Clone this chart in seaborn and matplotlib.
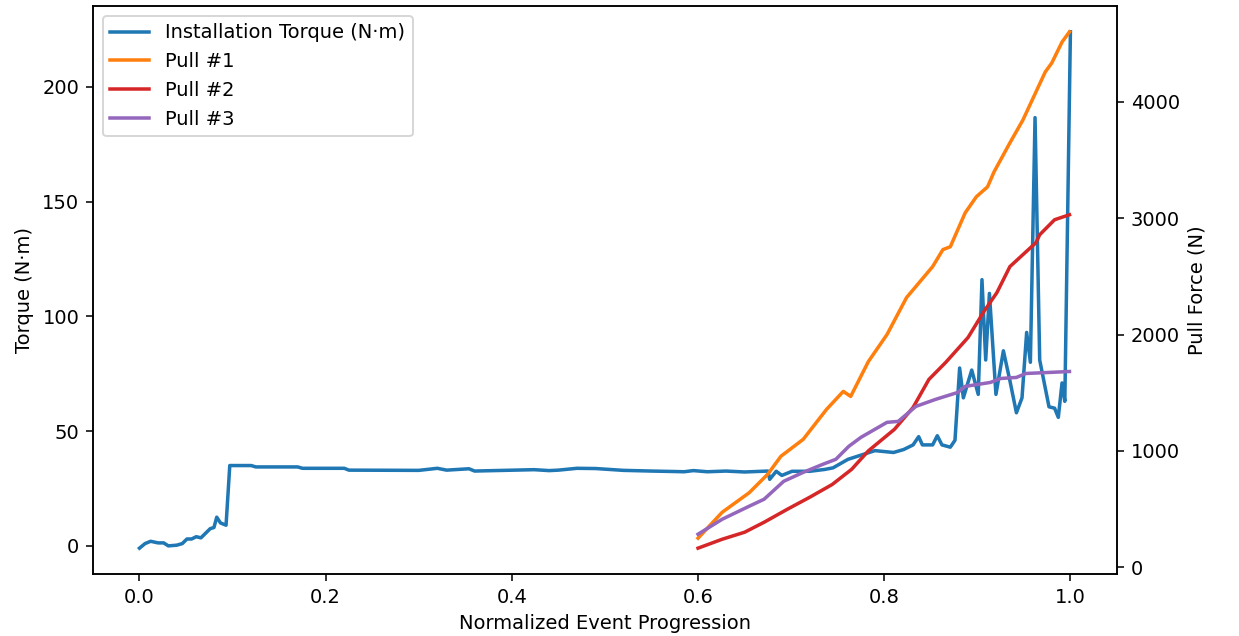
import matplotlib.pyplot as plt
import seaborn as sns
import pandas as pd

# 安装扭矩数据
torque_x = [0.0, 0.006, 0.012, 0.02, 0.026, 0.031, 0.04, 0.046, 0.051, 0.056, 0.061, 0.066,
            0.071, 0.076, 0.08, 0.083, 0.087, 0.093, 0.097, 0.12, 0.125, 0.17, 0.175, 0.22,
            0.225, 0.30, 0.32, 0.33, 0.354, 0.36, 0.37, 0.424, 0.44, 0.45, 0.47, 0.49, 0.52,
            0.55, 0.575, 0.585, 0.595, 0.61, 0.63, 0.65, 0.675, 0.677, 0.684, 0.69, 0.701,
            0.72, 0.736, 0.745, 0.761, 0.79, 0.81, 0.821, 0.831, 0.837, 0.841, 0.852, 0.857,
            0.862, 0.871, 0.876, 0.881, 0.885, 0.894, 0.901, 0.905, 0.909, 0.913, 0.92,
            0.928, 0.935, 0.942, 0.948, 0.953, 0.957, 0.962, 0.967, 0.977, 0.983, 0.987,
            0.991, 0.994, 1.0]
torque_y = [-1, 1, 2, 1.3, 1.3, 0, 0.3, 1, 3, 3, 4, 3.5,
            5.5, 7.5, 8, 12.5, 10, 9, 35, 35, 34.4, 34.4, 33.8, 33.8,
            33, 32.9, 33.8, 33, 33.6, 32.6, 32.7, 33.2, 32.8, 33.0, 33.8, 33.7, 32.9,
            32.6, 32.4, 32.3, 32.8, 32.3, 32.6, 32.2, 32.6, 29, 32.5, 30.7, 32.5,
            32.5, 33.3, 34, 37.7, 41.5, 40.7, 42, 44, 47.6, 44, 44, 48,
            44, 43, 46, 77.5, 64.5, 76.6, 66, 116, 81, 110, 66,
            85, 72, 58, 64.5, 93, 80, 186.6, 81, 60.6, 60, 56,
            71, 63, 224]

# 拉力数据
pull1_x = [0.600, 0.626, 0.655, 0.675, 0.689, 0.713, 0.738, 0.756, 0.764, 0.783, 0.803, 0.824,
           0.852, 0.863, 0.871, 0.887, 0.899, 0.911, 0.918, 0.935, 0.949, 0.963, 0.973, 0.980,
           0.991, 0.999]
pull1_y = [249, 472, 640, 800, 953, 1099, 1356, 1511, 1468, 1768, 2000, 2318,
           2584, 2730, 2755, 3047, 3185, 3270, 3399, 3648, 3845, 4086, 4258, 4335,
           4515, 4603]
pull2_x = [0.600, 0.626, 0.650, 0.671, 0.696, 0.720, 0.744, 0.765, 0.783, 0.811, 0.831, 0.848,
           0.866, 0.890, 0.907, 0.921, 0.935, 0.963, 0.967, 0.983, 0.999]
pull2_y = [163, 240, 300, 386, 498, 601, 710, 841, 1000, 1185, 1373, 1614,
           1760, 1974, 2197, 2360, 2584, 2790, 2858, 2987, 3030]
pull3_x = [0.600, 0.626, 0.655, 0.671, 0.692, 0.713, 0.734, 0.748, 0.762, 0.775, 0.803, 0.815,
           0.834, 0.855, 0.879, 0.887, 0.914, 0.925, 0.942, 0.952, 0.977, 0.999]
pull3_y = [283, 412, 524, 584, 738, 815, 884, 927, 1039, 1116, 1245, 1253,
           1382, 1442, 1502, 1554, 1588, 1622, 1631, 1665, 1674, 1682]

df_torque = pd.DataFrame({'x': torque_x, 'y': torque_y})
pulls = [('Pull #1', pull1_x, pull1_y, 'tab:orange'),
         ('Pull #2', pull2_x, pull2_y, 'tab:red'),
         ('Pull #3', pull3_x, pull3_y, 'tab:purple')]

fig, ax1 = plt.subplots(figsize=(1239 / 140, 636 / 140), dpi=140)
fig.subplots_adjust(left=0.075, right=0.9015, bottom=0.0975, top=0.9906)

sns.lineplot(data=df_torque, x='x', y='y', ax=ax1, color='tab:blue', linewidth=1.8,
             label='Installation Torque (N·m)', legend=False)
ax1.set_xlabel('Normalized Event Progression')
ax1.set_ylabel('Torque (N·m)')

ax2 = ax1.twinx()
for name, px, py, c in pulls:
    sns.lineplot(x=px, y=py, ax=ax2, color=c, linewidth=1.8, label=name, legend=False)
ax2.set_ylabel('Pull Force (N)')

h1, l1 = ax1.get_legend_handles_labels()
h2, l2 = ax2.get_legend_handles_labels()
ax2.legend(h1 + h2, l1 + l2, loc='upper left')

plt.savefig('out.png', dpi=140)
plt.close()
